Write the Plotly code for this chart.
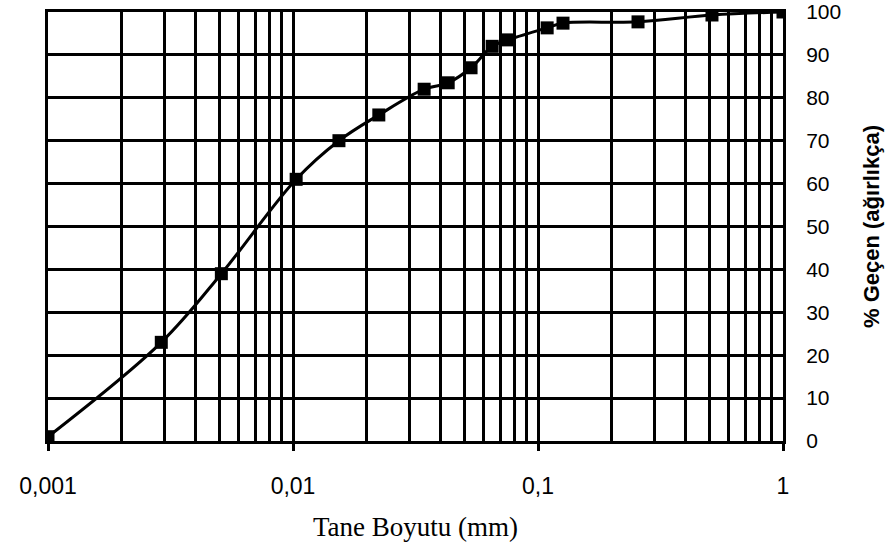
import plotly.graph_objects as go

# Data
size_mm = [0.001, 0.0029, 0.0051, 0.0103, 0.0154, 0.0224, 0.0343, 0.043, 0.0533,
           0.065, 0.0755, 0.109, 0.1265, 0.256, 0.513, 1.0]
passing = [1, 23, 39, 61, 70, 76, 82, 83.5, 87, 92, 93.5, 96.3, 97.4, 97.7, 99.3, 100]

decades = [0.001, 0.01, 0.1, 1]
decade_labels = ["0,001", "0,01", "0,1", "1"]
grid_x = [d * m for d in [0.001, 0.01, 0.1] for m in range(1, 10)] + [1]
y_ticks = list(range(0, 101, 10))

fig = go.Figure()
fig.add_trace(go.Scatter(
    x=size_mm, y=passing, mode="lines+markers",
    line=dict(color="black", width=3, shape="spline", smoothing=1),
    marker=dict(symbol="square", size=13, color="black"),
    showlegend=False, hoverinfo="x+y"))
fig.add_trace(go.Scatter(
    x=size_mm, y=passing, xaxis="x2", mode="markers",
    marker=dict(opacity=0), showlegend=False, hoverinfo="skip"))

fig.update_layout(
    width=895, height=542,
    margin=dict(l=48, r=112, t=12, b=101, autoexpand=False),
    paper_bgcolor="white", plot_bgcolor="white",
    xaxis=dict(type="log", range=[-3, 0], tickvals=grid_x, showticklabels=False,
               ticks="", showgrid=True, gridcolor="black", gridwidth=3,
               showline=True, linecolor="black", linewidth=3, mirror=True,
               zeroline=False, automargin=False),
    xaxis2=dict(type="log", range=[-3, 0], overlaying="x", side="bottom",
                tickvals=decades, ticktext=decade_labels, ticks="outside",
                ticklen=9, tickwidth=3, tickcolor="black", showgrid=False,
                showline=False, ticklabelstandoff=15, automargin=False,
                tickfont=dict(family="Liberation Sans, Arial", size=23, color="black"),
                title=dict(text="Tane Boyutu (mm)", standoff=21,
                           font=dict(family="Liberation Serif, Times New Roman", size=27, color="black"))),
    yaxis=dict(range=[0, 100], side="right", tickvals=y_ticks, ticks="",
               showgrid=True, gridcolor="black", gridwidth=3, zeroline=False,
               showline=True, linecolor="black", linewidth=3, mirror=True,
               ticklabelstandoff=16, automargin=False,
               tickfont=dict(family="Liberation Sans, Arial", size=21, color="black"),
               title=dict(text="<b>% Geçen (ağırlıkça)</b>", standoff=24,
                          font=dict(family="Liberation Sans, Arial", size=22, color="black"))),
)

fig.write_html("out.html")
